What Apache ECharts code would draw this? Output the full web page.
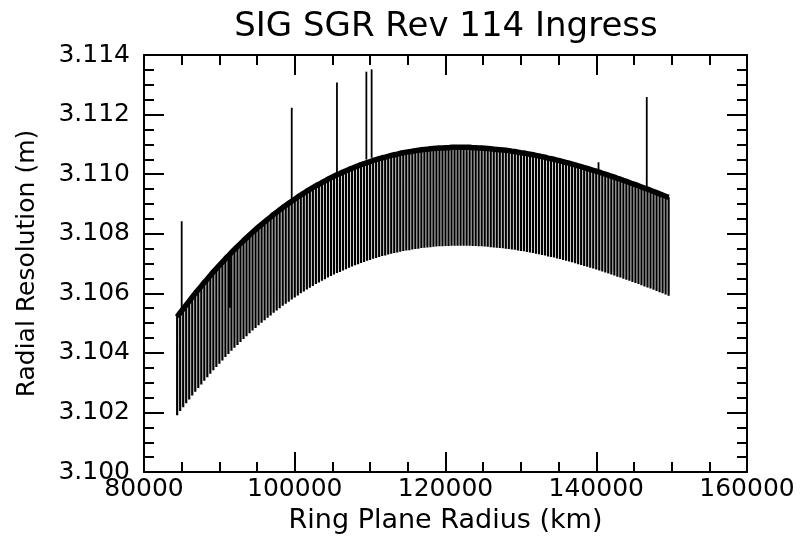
<!DOCTYPE html>
<html>
<head>
<meta charset="utf-8">
<script src="https://cdn.jsdelivr.net/npm/echarts@6/dist/echarts.min.js"></script>
<style>html,body{margin:0;padding:0;background:#fff;}#c{width:801px;height:539px;}</style>
</head>
<body>
<div id="c"></div>
<script>
// Ring plane radius (km) of each sample
const radius = [84400,84800,85200,85600,86000,86400,86800,87200,87600,88000,
88400,88800,89200,89600,90000,90400,90800,91200,91600,92000,
92400,92800,93200,93600,94000,94400,94800,95200,95600,96000,
96400,96800,97200,97600,98000,98400,98800,99200,99600,100000,
100400,100800,101200,101600,102000,102400,102800,103200,103600,104000,
104400,104800,105200,105600,106000,106400,106800,107200,107600,108000,
108400,108800,109200,109600,110000,110400,110800,111200,111600,112000,
112400,112800,113200,113600,114000,114400,114800,115200,115600,116000,
116400,116800,117200,117600,118000,118400,118800,119200,119600,120000,
120400,120800,121200,121600,122000,122400,122800,123200,123600,124000,
124400,124800,125200,125600,126000,126400,126800,127200,127600,128000,
128400,128800,129200,129600,130000,130400,130800,131200,131600,132000,
132400,132800,133200,133600,134000,134400,134800,135200,135600,136000,
136400,136800,137200,137600,138000,138400,138800,139200,139600,140000,
140400,140800,141200,141600,142000,142400,142800,143200,143600,144000,
144400,144800,145200,145600,146000,146400,146800,147200,147600,148000,
148400,148800,149200,149600];
// Upper envelope of radial resolution (m)
const upper = [3.10521,3.10535,3.10548,3.10561,3.10574,3.10587,3.10600,3.10612,3.10624,3.10637,
3.10648,3.10660,3.10672,3.10683,3.10694,3.10705,3.10716,3.10726,3.10737,3.10747,
3.10757,3.10767,3.10777,3.10786,3.10796,3.10805,3.10814,3.10823,3.10831,3.10840,
3.10848,3.10856,3.10865,3.10872,3.10880,3.10888,3.10895,3.10902,3.10909,3.10916,
3.10923,3.10930,3.10936,3.10943,3.10949,3.10955,3.10961,3.10966,3.10972,3.10977,
3.10983,3.10988,3.10993,3.10998,3.11002,3.11007,3.11011,3.11016,3.11020,3.11024,
3.11028,3.11032,3.11035,3.11039,3.11042,3.11046,3.11049,3.11052,3.11055,3.11057,
3.11060,3.11063,3.11065,3.11067,3.11070,3.11072,3.11074,3.11075,3.11077,3.11079,
3.11080,3.11082,3.11083,3.11084,3.11085,3.11086,3.11087,3.11088,3.11088,3.11089,
3.11089,3.11090,3.11090,3.11090,3.11090,3.11090,3.11090,3.11090,3.11089,3.11089,
3.11088,3.11088,3.11087,3.11086,3.11085,3.11084,3.11083,3.11082,3.11081,3.11080,
3.11079,3.11077,3.11076,3.11074,3.11072,3.11071,3.11069,3.11067,3.11065,3.11063,
3.11061,3.11059,3.11057,3.11054,3.11052,3.11050,3.11047,3.11045,3.11042,3.11039,
3.11037,3.11034,3.11031,3.11028,3.11025,3.11022,3.11019,3.11016,3.11013,3.11010,
3.11007,3.11003,3.11000,3.10997,3.10993,3.10990,3.10986,3.10983,3.10979,3.10976,
3.10972,3.10968,3.10965,3.10961,3.10957,3.10953,3.10950,3.10946,3.10942,3.10938,
3.10934,3.10930,3.10926,3.10922];
// Lower envelope of radial resolution (m)
const lower = [3.10191,3.10205,3.10218,3.10231,3.10244,3.10257,3.10270,3.10282,3.10294,3.10307,
3.10318,3.10330,3.10342,3.10353,3.10364,3.10375,3.10386,3.10396,3.10407,3.10417,
3.10427,3.10437,3.10447,3.10456,3.10466,3.10475,3.10484,3.10493,3.10501,3.10510,
3.10518,3.10526,3.10535,3.10542,3.10550,3.10558,3.10565,3.10572,3.10579,3.10586,
3.10593,3.10600,3.10606,3.10613,3.10619,3.10625,3.10631,3.10636,3.10642,3.10647,
3.10653,3.10658,3.10663,3.10668,3.10672,3.10677,3.10681,3.10686,3.10690,3.10694,
3.10698,3.10702,3.10705,3.10709,3.10712,3.10716,3.10719,3.10722,3.10725,3.10727,
3.10730,3.10733,3.10735,3.10737,3.10740,3.10742,3.10744,3.10745,3.10747,3.10749,
3.10750,3.10752,3.10753,3.10754,3.10755,3.10756,3.10757,3.10758,3.10758,3.10759,
3.10759,3.10760,3.10760,3.10760,3.10760,3.10760,3.10760,3.10760,3.10759,3.10759,
3.10758,3.10758,3.10757,3.10756,3.10755,3.10754,3.10753,3.10752,3.10751,3.10750,
3.10749,3.10747,3.10746,3.10744,3.10742,3.10741,3.10739,3.10737,3.10735,3.10733,
3.10731,3.10729,3.10727,3.10724,3.10722,3.10720,3.10717,3.10715,3.10712,3.10709,
3.10707,3.10704,3.10701,3.10698,3.10695,3.10692,3.10689,3.10686,3.10683,3.10680,
3.10677,3.10673,3.10670,3.10667,3.10663,3.10660,3.10656,3.10653,3.10649,3.10646,
3.10642,3.10638,3.10635,3.10631,3.10627,3.10623,3.10620,3.10616,3.10612,3.10608,
3.10604,3.10600,3.10596,3.10592];
// Isolated spikes: radius, start value, end value
const spikeRadius = [85000, 91400, 99600, 105600, 109500, 110200, 140300, 146700];
const spikeFrom   = [3.10542, 3.10728, 3.10910, 3.10998, 3.11049, 3.11055, 3.11008, 3.10951];
const spikeTo     = [3.10842, 3.10552, 3.11223, 3.11308, 3.11344, 3.11352, 3.11040, 3.11259];

const xTicks = {min: 80000, max: 160000, interval: 20000};
const yTicks = {min: 3.100, max: 3.114, interval: 0.002};

const FONT = 'DejaVu Sans';
const chart = echarts.init(document.getElementById('c'), null, {renderer: 'canvas'});

// each sample: a vertical stroke from the upper envelope down to the lower one and back
const teeth = [];
for (let i = 0; i < radius.length; i++) {
  teeth.push([radius[i], upper[i]]);
  teeth.push([radius[i], lower[i]]);
  teeth.push([radius[i], upper[i]]);
}
const topLine = radius.map((r, i) => [r, upper[i]]);

function axisCommon() {
  return {
    axisLine: {show: true, onZero: false, lineStyle: {color: '#000', width: 2}},
    axisTick: {show: true, inside: true, length: 20, lineStyle: {color: '#000', width: 2}},
    minorTick: {show: true, splitNumber: 4, length: 10, lineStyle: {color: '#000', width: 2}},
    splitLine: {show: false},
    minorSplitLine: {show: false}
  };
}

const series = [
  {type: 'line', data: teeth, xAxisIndex: 0, yAxisIndex: 0, symbol: 'none', silent: true,
   lineStyle: {color: '#000', width: 2.2}, animation: false},
  {type: 'line', data: topLine, xAxisIndex: 0, yAxisIndex: 0, symbol: 'none', silent: true,
   lineStyle: {color: '#000', width: 5.5}, animation: false}
];
spikeRadius.forEach((r, i) => {
  series.push({type: 'line', data: [[r, spikeFrom[i]], [r, spikeTo[i]]], symbol: 'none', silent: true,
    lineStyle: {color: '#000', width: 1.8}, animation: false});
});

chart.setOption({
  animation: false,
  backgroundColor: '#fff',
  grid: {left: 144, right: 54, top: 55, bottom: 63, containLabel: false},
  graphic: [{type: 'text', x: 446, y: 27,
    style: {text: 'SIG SGR Rev 114 Ingress', font: '34px "DejaVu Sans"', fill: '#000',
      textAlign: 'center', textVerticalAlign: 'middle'}}],
  xAxis: [
    Object.assign({type: 'value', position: 'bottom', min: xTicks.min, max: xTicks.max, interval: xTicks.interval,
      name: 'Ring Plane Radius (km)', nameLocation: 'middle', nameGap: 32,
      nameTextStyle: {fontFamily: FONT, fontSize: 27, color: '#000'},
      axisLabel: {show: true, fontFamily: FONT, fontSize: 25, color: '#000', margin: 5,
        formatter: v => String(Math.round(v))}}, axisCommon()),
    Object.assign({type: 'value', position: 'top', min: xTicks.min, max: xTicks.max, interval: xTicks.interval,
      axisLabel: {show: false}}, axisCommon())
  ],
  yAxis: [
    Object.assign({type: 'value', position: 'left', min: yTicks.min, max: yTicks.max, interval: yTicks.interval,
      name: 'Radial Resolution (m)', nameLocation: 'middle', nameGap: 104,
      nameTextStyle: {fontFamily: FONT, fontSize: 25, color: '#000'},
      axisLabel: {show: true, fontFamily: FONT, fontSize: 25, color: '#000', margin: 14,
        formatter: v => v.toFixed(3)}}, axisCommon()),
    Object.assign({type: 'value', position: 'right', min: yTicks.min, max: yTicks.max, interval: yTicks.interval,
      axisLabel: {show: false}}, axisCommon())
  ],
  series: series
});
</script>
</body>
</html>
